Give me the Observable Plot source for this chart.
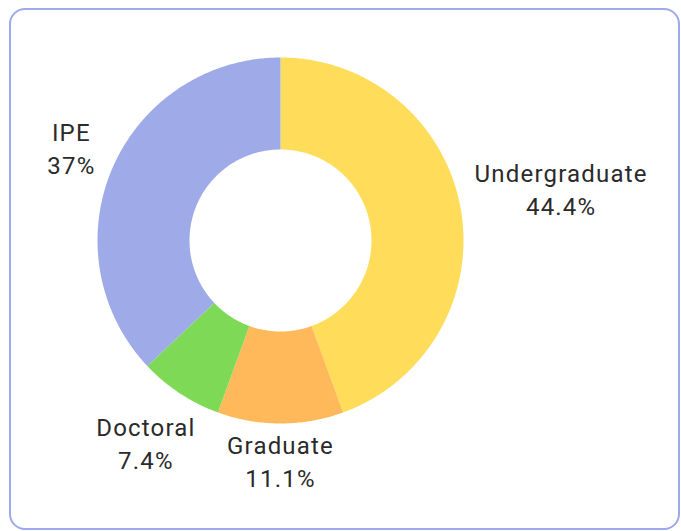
<!DOCTYPE html>
<html>
<head>
<meta charset="utf-8">
<script src="https://cdn.jsdelivr.net/npm/d3@7"></script>
<script src="https://cdn.jsdelivr.net/npm/@observablehq/plot@0.6"></script>
<style>
  html, body { margin: 0; padding: 0; background: #fff; }
  #wrap { position: relative; width: 681px; height: 531px; overflow: hidden; }
  #card { position: absolute; left: 9px; top: 8px; width: 671px; height: 522px;
          border: 2px solid #9fa8ea; border-radius: 16px; box-sizing: border-box; }
  #chart { position: absolute; left: 0; top: 0; }
</style>
</head>
<body>
<div id="wrap"><div id="card"></div><div id="chart"></div></div>
<script>
const categories = ["Undergraduate", "Graduate", "Doctoral", "IPE"];
const values = [44.4, 11.1, 7.4, 37];
const valueLabels = ["44.4%", "11.1%", "7.4%", "37%"];
const colors = ["#FFDD5A", "#FFB95A", "#7ED957", "#9FAAE8"];

const W = 681, H = 531;
const CX = 280, CY = 240, R_OUT = 183, R_IN = 91;
const FONT_SIZE = 24, FONT = "Roboto", LETTER = 1.2;
const LABEL_GAP = 12;

// scale units: 1 unit = outer radius
const u = R_OUT;
const xDomain = [-CX / u, (W - CX) / u];
const yDomain = [-(H - CY) / u, CY / u];

const total = d3.sum(values);
const ctx = document.createElement("canvas").getContext("2d");
ctx.font = `${FONT_SIZE}px ${FONT}`;
const textW = s => ctx.measureText(s).width + LETTER * s.length;

let acc = 0;
const slices = categories.map((c, i) => {
  const a0 = acc / total * 2 * Math.PI;
  acc += values[i];
  const a1 = acc / total * 2 * Math.PI;
  return {category: c, value: values[i], label: valueLabels[i], color: colors[i], a0, a1};
});

// polygon points for each ring segment (angle clockwise from top)
const ringPts = [];
const rIn = R_IN / R_OUT;
for (const s of slices) {
  const n = Math.max(8, Math.ceil((s.a1 - s.a0) / 0.01));
  for (let k = 0; k <= n; k++) {
    const a = s.a0 + (s.a1 - s.a0) * k / n;
    ringPts.push({category: s.category, x: Math.sin(a), y: Math.cos(a)});
  }
  for (let k = n; k >= 0; k--) {
    const a = s.a0 + (s.a1 - s.a0) * k / n;
    ringPts.push({category: s.category, x: rIn * Math.sin(a), y: rIn * Math.cos(a)});
  }
  ringPts.push({category: s.category, x: Math.sin(s.a0), y: Math.cos(s.a0)});
}

// label positions: box touching a circle just outside the ring
const labels = slices.map(s => {
  const m = (s.a0 + s.a1) / 2;
  const sx = Math.sin(m), sy = Math.cos(m);
  const hw = Math.max(textW(s.category), textW(s.label)) / 2;
  const hh = 27;
  const d = (R_OUT + LABEL_GAP + hw * Math.abs(sx) + hh * Math.abs(sy)) / u;
  return {text: s.category + "\n" + s.label, x: d * sx, y: d * sy};
});

const chart = Plot.plot({
  width: W, height: H,
  margin: 0,
  x: {domain: xDomain, axis: null},
  y: {domain: yDomain, axis: null},
  color: {domain: categories, range: colors},
  style: {background: "transparent", overflow: "visible"},
  marks: [
    Plot.line(ringPts, {x: "x", y: "y", z: "category", fill: "category", stroke: null, curve: "linear"}),
    Plot.text(labels, {x: "x", y: "y", text: "text", lineAnchor: "middle", lineHeight: 1.38,
      fontSize: FONT_SIZE, fontFamily: FONT, fill: "#2a2a2a",
      textAnchor: "middle", dy: -3})
  ]
});
chart.style.letterSpacing = LETTER + "px";
document.getElementById("chart").appendChild(chart);
</script>
</body>
</html>
